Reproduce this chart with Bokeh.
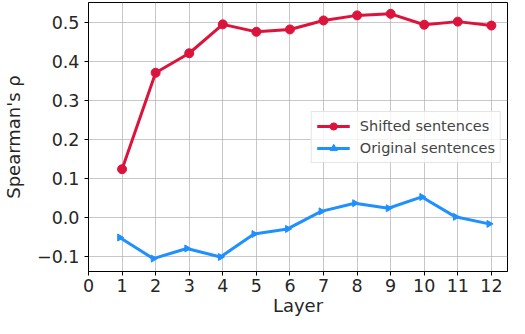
from bokeh.plotting import figure
from bokeh.models import ColumnDataSource, Range1d, FixedTicker, Legend, LegendItem
from bokeh.transform import dodge
from bokeh.embed import file_html
from bokeh.resources import INLINE

layers = [1, 2, 3, 4, 5, 6, 7, 8, 9, 10, 11, 12]
shifted = [0.123, 0.370, 0.420, 0.494, 0.475, 0.481, 0.504, 0.517, 0.521, 0.493, 0.501, 0.491]
original = [-0.052, -0.106, -0.080, -0.102, -0.043, -0.030, 0.015, 0.036, 0.023, 0.052, 0.001, -0.017]
x_ticks = list(range(0, 13))
y_ticks = [-0.1, 0.0, 0.1, 0.2, 0.3, 0.4, 0.5]

src = ColumnDataSource(dict(layer=layers, shifted=shifted, original=original))

p = figure(width=509, height=318, output_backend="svg", toolbar_location=None,
           x_range=Range1d(0, 12.48), y_range=Range1d(-0.139, 0.55),
           min_border_left=6, min_border_right=2, min_border_top=2, min_border_bottom=4)

RED = "#DC143C"
BLUE = "#1E90FF"

r1 = p.line("layer", "shifted", source=src, color=RED, line_width=3)
r1m = p.scatter("layer", "shifted", source=src, color=RED, size=9, marker="circle")
bx = dodge("layer", -0.07, range=p.x_range)
r2 = p.line(bx, "original", source=src, color=BLUE, line_width=3)
r2m = p.scatter(bx, "original", source=src, color=BLUE, size=7, marker="triangle", angle=-1.5708)

legend = Legend(items=[LegendItem(label="Shifted sentences", renderers=[r1, r1m]),
                       LegendItem(label="Original sentences", renderers=[r2, r2m])],
                location="center_right", label_text_font="DejaVu Sans", label_text_font_size="14.5px",
                glyph_width=33, glyph_height=18, label_standoff=10, spacing=4,
                padding=5, margin=6, border_line_color="#cccccc", border_line_width=1,
                background_fill_alpha=0.8)
p.add_layout(legend)

for ax in (p.xaxis, p.yaxis):
    ax.major_label_text_font = "DejaVu Sans"
    ax.major_label_text_font_size = "17.5px"
    ax.major_label_text_color = "#262626"
    ax.axis_label_text_font = "DejaVu Sans"
    ax.axis_label_text_font_size = "18px"
    ax.axis_label_text_font_style = "normal"
    ax.axis_label_text_color = "#262626"
    ax.minor_tick_line_color = None
    ax.major_tick_out = 4
    ax.major_tick_in = 0
    ax.axis_line_color = "black"
    ax.major_tick_line_color = "black"

p.xaxis.ticker = FixedTicker(ticks=x_ticks)
p.yaxis.ticker = FixedTicker(ticks=y_ticks)
p.yaxis.major_label_overrides = {-0.1: "\u22120.1", 0.0: "0.0", 0.1: "0.1", 0.2: "0.2",
                                 0.3: "0.3", 0.4: "0.4", 0.5: "0.5"}
p.xaxis.axis_label = "Layer"
p.yaxis.axis_label = "Spearman's \u03c1"
p.xaxis.axis_label_standoff = 0
p.yaxis.axis_label_standoff = 10
p.xaxis.major_label_standoff = 3
p.yaxis.major_label_standoff = 5

p.grid.grid_line_color = "#b0b0b0"
p.grid.grid_line_width = 1
p.grid.grid_line_alpha = 0.7
p.outline_line_color = "black"
p.outline_line_width = 1
p.outline_line_alpha = 1

open("out.html", "w").write(file_html(p, INLINE))
